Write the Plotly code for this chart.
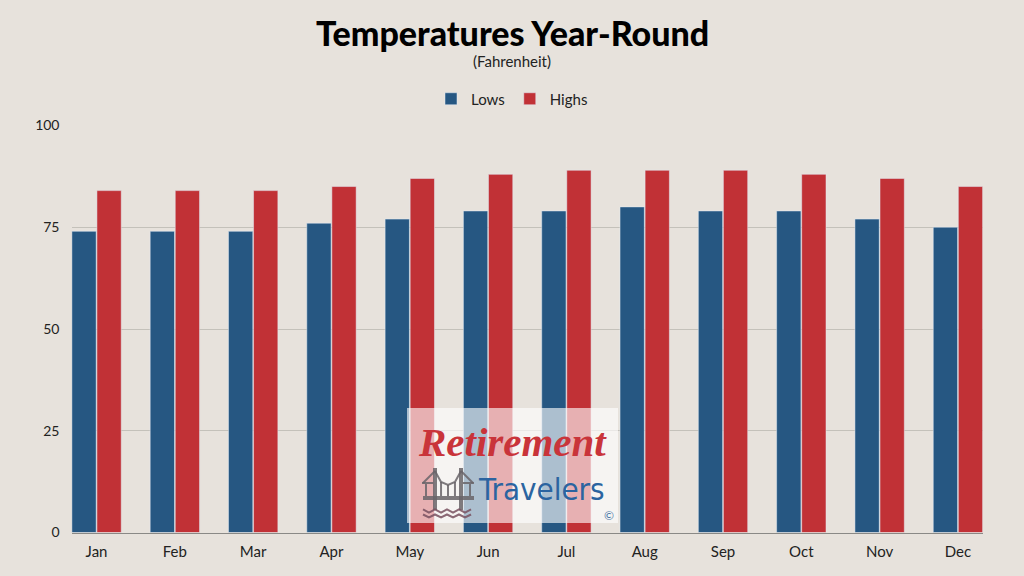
import plotly.graph_objects as go

months = ["Jan", "Feb", "Mar", "Apr", "May", "Jun", "Jul", "Aug", "Sep", "Oct", "Nov", "Dec"]
lows = [74, 74, 74, 76, 77, 79, 79, 80, 79, 79, 77, 75]
highs = [84, 84, 84, 85, 87, 88, 89, 89, 89, 88, 87, 85]
y_ticks = [0, 25, 50, 75, 100]

BG = "#e7e2dc"
BLUE = "#265782"
RED = "#c13136"
GRID = "#c4c1ba"
FONT = "Lato"
W, H = 1024, 576


# logo sits in page pixels, so convert to paper coordinates
def px(x):
    return x / W


def py(y):
    return 1 - y / H


def logo_path(points):
    return "M" + " L".join(f"{px(x):.4f},{py(y):.4f}" for x, y in points)


fig = go.Figure()
fig.add_trace(go.Bar(x=months, y=lows, name="Lows", marker_color=BLUE))
fig.add_trace(go.Bar(x=months, y=highs, name="Highs", marker_color=RED))

fig.update_layout(
    width=W,
    height=H,
    margin=dict(l=0, r=0, t=0, b=0, autoexpand=False),
    paper_bgcolor=BG,
    plot_bgcolor=BG,
    font=dict(family=FONT, size=15, color="#222222"),
    barmode="group",
    bargap=0.36,
    bargroupgap=0.03,
    showlegend=True,
    legend=dict(
        orientation="h",
        x=0.5,
        xanchor="center",
        y=py(99),
        yanchor="middle",
        bgcolor="rgba(0,0,0,0)",
        font=dict(size=15),
        itemwidth=30,
    ),
    xaxis=dict(
        domain=[px(71.5), px(983)],
        range=[-0.32, 11.32],
        showgrid=False,
        showline=True,
        linecolor="#8a8986",
        linewidth=1,
        ticks="",
        ticklabelstandoff=5,
        fixedrange=True,
    ),
    yaxis=dict(
        domain=[py(532.5), py(125.5)],
        range=[0, 100],
        tickvals=y_ticks,
        tickfont=dict(size=14),
        gridcolor=GRID,
        gridwidth=1,
        zeroline=False,
        ticks="",
        ticklabelstandoff=11,
        fixedrange=True,
    ),
)

annotations = [
    dict(text="Temperatures Year-Round", x=px(512), y=py(32),
         font=dict(size=34, color="#000000", family=FONT, weight=900)),
    dict(text="(Fahrenheit)", x=px(512), y=py(61), font=dict(size=15, color="#222222", family=FONT)),
    dict(text="<b><i>Retirement</i></b>", x=px(512), y=py(442),
         font=dict(size=41, color="#c9343a", family="Liberation Serif")),
    dict(text="Travelers", x=px(541), y=py(489),
         font=dict(size=31, color="#2b64a0", family="DejaVu Sans Condensed")),
    dict(text="©", x=px(609), y=py(515), font=dict(size=12, color="#4a78a8", family=FONT)),
]
for a in annotations:
    fig.add_annotation(xref="paper", yref="paper", showarrow=False, xanchor="center", yanchor="middle", **a)

# watermark panel and bridge icon
logo_gray = "rgba(105,100,105,0.85)"
logo_wave = "rgba(120,80,95,0.85)"
shapes = [
    dict(type="rect", x0=px(407), x1=px(618), y0=py(408), y1=py(523),
         fillcolor="rgba(255,255,255,0.62)", line_width=0),
    dict(type="rect", x0=px(423), x1=px(474), y0=py(496), y1=py(500), fillcolor=logo_gray, line_width=0),
    dict(type="rect", x0=px(433), x1=px(437), y0=py(468), y1=py(510), fillcolor=logo_gray, line_width=0),
    dict(type="rect", x0=px(459), x1=px(463), y0=py(468), y1=py(510), fillcolor=logo_gray, line_width=0),
]
for path in [
    [(423, 483), (435, 471)],
    [(473, 483), (461, 471)],
    [(435, 471), (441, 482), (448, 485), (455, 482), (461, 471)],
    [(422, 483), (433, 483)],
    [(463, 483), (474, 483)],
    [(441, 482), (441, 496)],
    [(448, 485), (448, 496)],
    [(455, 482), (455, 496)],
    [(426, 484), (426, 496)],
    [(470, 484), (470, 496)],
]:
    shapes.append(dict(type="path", path=logo_path(path), line=dict(color=logo_gray, width=2)))
for wave_y in [511, 516]:
    wave = [(423 + i * 6, wave_y + (1.5 if i % 2 else -1.5)) for i in range(9)]
    shapes.append(dict(type="path", path=logo_path(wave), line=dict(color=logo_wave, width=2)))
for s in shapes:
    s.update(xref="paper", yref="paper", layer="above")
fig.update_layout(shapes=shapes)

# the browser's default body margin would shift the page by 8px
fig.write_html(
    "out.html",
    config={"displayModeBar": False},
    post_script="document.body.style.margin='0';document.body.style.overflow='hidden';",
)
